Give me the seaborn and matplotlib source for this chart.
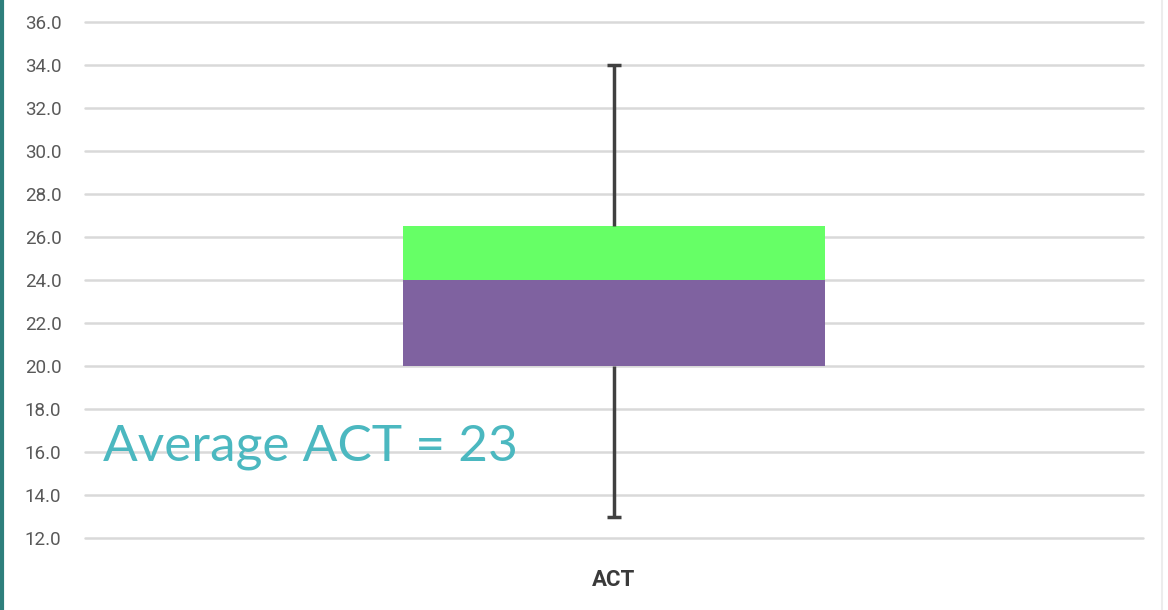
import matplotlib
matplotlib.use("Agg")
import matplotlib.pyplot as plt
import seaborn as sns
import pandas as pd

categories = ["ACT"]
q1 = [20.0]
median = [24.0]
q3 = [26.5]
whisker_low = [13.0]
whisker_high = [34.0]
average_label = "Average ACT = 23"
yticks = [12, 14, 16, 18, 20, 22, 24, 26, 28, 30, 32, 34, 36]

sns.set_theme(style="white")
plt.rcParams['font.family'] = ['Roboto', 'DejaVu Sans']

fig = plt.figure(figsize=(11.68, 6.10), dpi=100)
ax = fig.add_axes([85/1168, 1 - 538/610, (1143-85)/1168, (538-22)/610])

df_low = pd.DataFrame({"cat": categories, "h": [m - a for m, a in zip(median, q1)]})
df_high = pd.DataFrame({"cat": categories, "h": [b - m for b, m in zip(q3, median)]})

sns.barplot(data=df_low, x="cat", y="h", bottom=q1, color="#7f62a0", saturation=1,
            width=0.398, ax=ax, zorder=3, linewidth=0)
sns.barplot(data=df_high, x="cat", y="h", bottom=median, color="#66ff66", saturation=1,
            width=0.398, ax=ax, zorder=3, linewidth=0)

for i in range(len(categories)):
    ax.vlines(i, whisker_low[i], q1[i], color="#404040", lw=2.5, zorder=4)
    ax.vlines(i, q3[i], whisker_high[i], color="#404040", lw=2.5, zorder=4)
    ax.hlines([whisker_low[i], whisker_high[i]], i - 0.0065, i + 0.0065,
              color="#404040", lw=2.5, zorder=4)

ax.set_ylim(12, 36)
ax.set_xlim(-0.5, 0.5)
ax.set_yticks(yticks)
ax.set_yticklabels([f"{v:.1f}" for v in yticks], fontsize=13.5, color="#595959")
ax.tick_params(axis='y', length=0, pad=17)
ax.tick_params(axis='x', length=0, pad=22)
ax.set_xticks(range(len(categories)))
ax.set_xticklabels(categories, fontsize=16, color="#3a3a3a", fontweight="bold")
ax.set_xlabel("")
ax.set_ylabel("")
ax.yaxis.grid(True, color="#d9d9d9", lw=1.8, zorder=0)
ax.set_axisbelow(True)
for gl in ax.get_ygridlines():
    gl.set_clip_on(False)
for s in ax.spines.values():
    s.set_visible(False)

fig.text(103/1168, 1 - 460/610, average_label, fontsize=37, color="#4bb8c0",
         fontweight="normal", family=['Lato', 'DejaVu Sans'], va="baseline", ha="left")

# left teal border and faint right border
fig.add_artist(plt.Line2D([1.5/1168, 1.5/1168], [0, 1], color="#2e7f7c", lw=3,
                          transform=fig.transFigure))
fig.add_artist(plt.Line2D([1162/1168, 1162/1168], [0, 1], color="#ececec", lw=1.5,
                          transform=fig.transFigure))

fig.savefig("out.png", dpi=100)
